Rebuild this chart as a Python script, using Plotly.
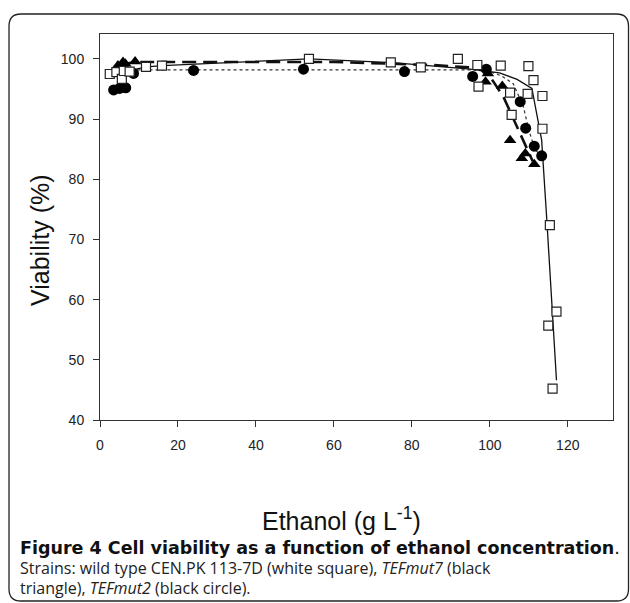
import plotly.graph_objects as go

# ---- data ----
wt_x = [2.5, 4.2, 5.6, 6.1, 7.6, 11.8, 15.9, 53.6, 74.6, 82.3, 91.8, 96.8, 97.1,
        102.8, 105.2, 105.6, 109.9, 111.2, 109.7, 113.5, 113.5, 115.4, 117.1, 115.0, 116.1]
wt_y = [97.5, 97.8, 96.7, 98.0, 97.9, 98.7, 98.9, 100.0, 99.45, 98.6, 100.0, 99.0, 95.4,
        98.9, 94.4, 90.7, 98.8, 96.5, 94.2, 93.85, 88.4, 72.4, 58.0, 55.7, 45.2]

mut7_x = [4.6, 5.9, 6.5, 9.0, 99.5, 98.9, 103.2, 105.2, 108.2, 109.1, 111.4]
mut7_y = [98.9, 99.5, 99.2, 99.6, 97.6, 96.2, 95.5, 86.5, 83.5, 84.3, 82.5]

mut2_x = [3.5, 5.0, 6.6, 8.6, 24.0, 52.2, 78.1, 95.6, 99.1, 107.8, 109.2, 111.4, 113.3]
mut2_y = [94.85, 95.1, 95.2, 97.6, 98.1, 98.3, 97.9, 97.1, 98.3, 92.9, 88.5, 85.5, 83.9]

# fitted curves
wt_fit_x = [2.5, 7.0, 12.0, 16.0, 53.6, 75.0, 95.0, 102.5, 107.0, 110.8, 113.3, 114.6, 117.1]
wt_fit_y = [97.4, 98.0, 98.7, 98.9, 100.0, 99.4, 98.3, 97.7, 96.6, 95.1, 86.5, 73.5, 46.6]

mut7_fit_x = [5.0, 9.0, 20.0, 60.0, 85.0, 97.0, 99.2, 103.5, 107.0, 111.0]
mut7_fit_y = [99.0, 99.5, 99.5, 99.5, 99.0, 98.5, 97.9, 93.7, 88.7, 83.0]

mut2_fit_x = [5.0, 50.0, 95.0, 100.0, 103.0, 106.0, 108.6, 110.0, 111.6, 113.3]
mut2_fit_y = [98.2, 98.2, 98.2, 97.9, 97.2, 95.9, 92.1, 88.2, 84.9, 83.9]

x_ticks = [0, 20, 40, 60, 80, 100, 120]
y_ticks = [40, 50, 60, 70, 80, 90, 100]

fig = go.Figure()

fig.add_trace(go.Scatter(x=mut2_fit_x, y=mut2_fit_y, mode="lines",
                         line=dict(color="#333333", width=1.2, dash="dot"), showlegend=False))
fig.add_trace(go.Scatter(x=mut7_fit_x, y=mut7_fit_y, mode="lines",
                         line=dict(color="#111111", width=2.6, dash="14px,7px"), showlegend=False))
fig.add_trace(go.Scatter(x=wt_fit_x, y=wt_fit_y, mode="lines",
                         line=dict(color="#111111", width=1.3), showlegend=False))

fig.add_trace(go.Scatter(x=mut2_x, y=mut2_y, mode="markers",
                         marker=dict(symbol="circle", size=11, color="black"), showlegend=False))
fig.add_trace(go.Scatter(x=mut7_x, y=mut7_y, mode="markers",
                         marker=dict(symbol="triangle-up", size=11, color="black"), showlegend=False))
fig.add_trace(go.Scatter(x=wt_x, y=wt_y, mode="markers",
                         marker=dict(symbol="square", size=9, color="white",
                                     line=dict(color="#222222", width=1.2)), showlegend=False))

W, H = 630, 603
L, R, T, B = 100, 17, 34, 183
pw, ph = W - L - R, H - T - B


def px(x):
    return (x - L) / pw


def py(y):
    return (H - B - y) / ph


axis_common = dict(showline=True, linecolor="#333333", linewidth=1, mirror=True,
                   ticks="outside", ticklen=6, tickcolor="#333333", showgrid=False,
                   zeroline=False, ticklabelstandoff=6,
                   tickfont=dict(family="Liberation Sans, Arial", size=14, color="#222222"))

fig.update_xaxes(range=[0, 131.6], tickvals=x_ticks, **axis_common)
fig.update_yaxes(range=[40, 104.15], tickvals=y_ticks, **axis_common)

# rounded outer frame
x0, x1, y0, y1, r = px(9), px(628.5), py(14), py(601), 12
rx, ry = r / pw, r / ph
path = (f"M {x0+rx},{y0} L {x1-rx},{y0} Q {x1},{y0} {x1},{y0-ry} "
        f"L {x1},{y1+ry} Q {x1},{y1} {x1-rx},{y1} L {x0+rx},{y1} "
        f"Q {x0},{y1} {x0},{y1+ry} L {x0},{y0-ry} Q {x0},{y0} {x0+rx},{y0} Z")
fig.add_shape(type="path", path=path, xref="paper", yref="paper",
              line=dict(color="#222222", width=1.3))

ann = []
ann.append(dict(x=px(40), y=py(240), xref="paper", yref="paper", text="Viability (%)",
                textangle=-90, showarrow=False, xanchor="center", yanchor="middle",
                font=dict(family="Liberation Sans, Arial", size=25, color="#111111")))
ann.append(dict(x=px(341), y=py(519), xref="paper", yref="paper", text="Ethanol (g L<sup>-1</sup>)",
                showarrow=False, xanchor="center", yanchor="middle",
                font=dict(family="Liberation Sans, Arial", size=25, color="#111111")))
cap_font = dict(family="Open Sans", size=16, color="#222222")
ann.append(dict(x=px(18), y=py(548), xref="paper", yref="paper",
                text="<b>Figure 4 Cell viability as a function of ethanol concentration</b>.",
                showarrow=False, xanchor="left", yanchor="middle",
                font=dict(family="DejaVu Sans", size=17.5, color="#111111")))
ann.append(dict(x=px(18), y=py(568), xref="paper", yref="paper",
                text="Strains: wild type CEN.PK 113-7D (white square), <i>TEFmut7</i> (black",
                showarrow=False, xanchor="left", yanchor="middle", font=cap_font))
ann.append(dict(x=px(18), y=py(588), xref="paper", yref="paper",
                text="triangle), <i>TEFmut2</i> (black circle).",
                showarrow=False, xanchor="left", yanchor="middle", font=cap_font))

fig.update_layout(width=W, height=H, margin=dict(l=L, r=R, t=T, b=B),
                  paper_bgcolor="white", plot_bgcolor="white", annotations=ann,
                  showlegend=False)

fig.write_html("out.html", config={"displayModeBar": False},
               post_script="document.body.style.margin='0';")
